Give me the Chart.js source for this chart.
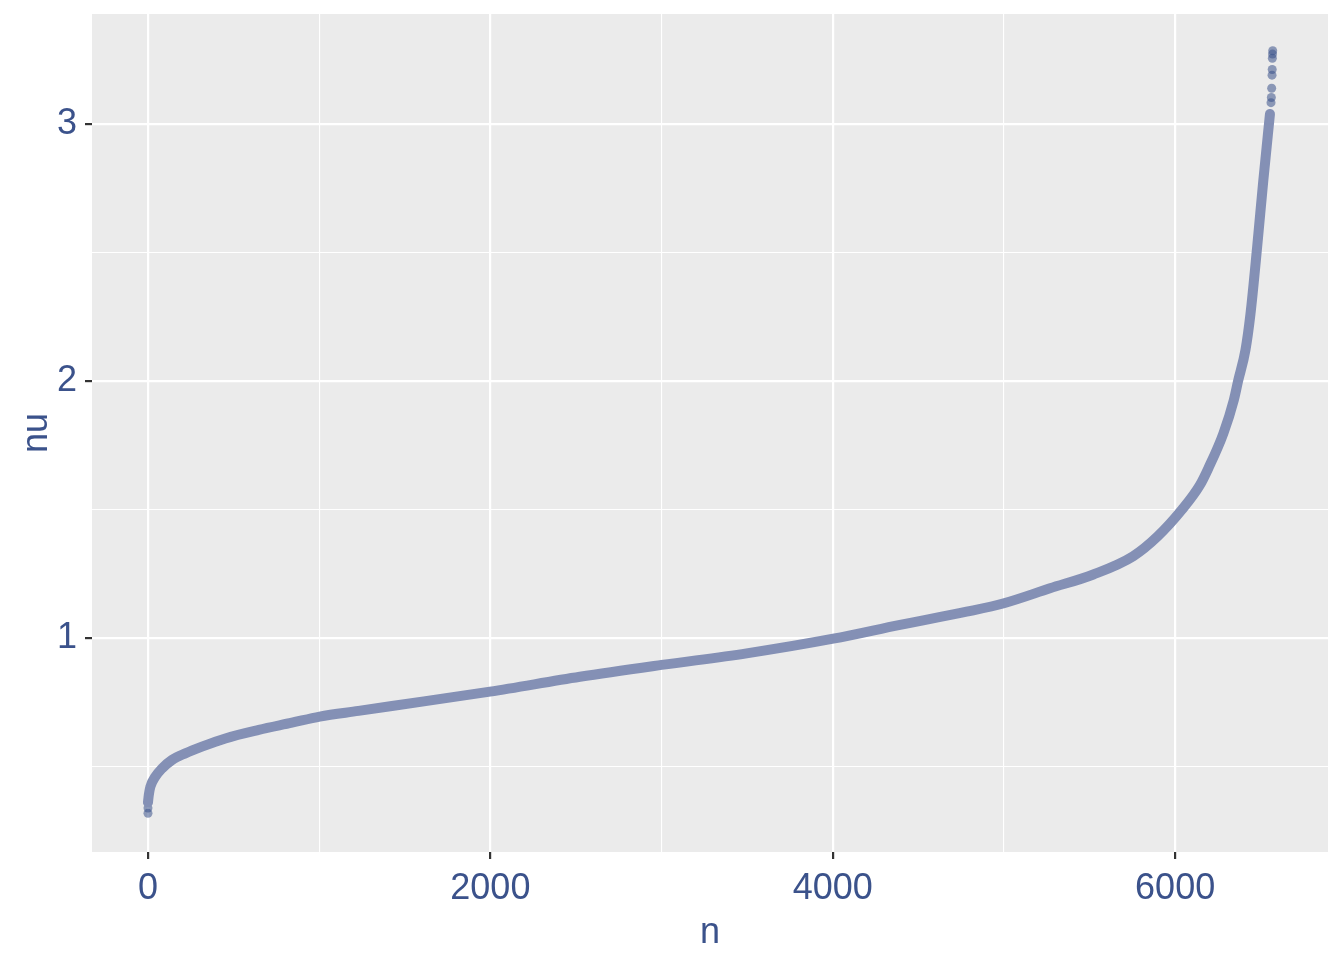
<!DOCTYPE html>
<html>
<head>
<meta charset="utf-8">
<script src="https://cdn.jsdelivr.net/npm/chart.js@4.4.0/dist/chart.umd.min.js"></script>
<style>
  body { margin: 0; background: #ffffff; }
  canvas { display: block; }
</style>
</head>
<body>
<canvas id="chart" width="1344" height="960"></canvas>
<script>
// sorted nu values (dense band)
var bandN = [0, 5, 14, 43, 82, 140, 218, 315, 452, 647, 841, 1003, 1230, 1425, 1998, 2523, 3000, 3497, 4003, 4393, 4782, 5000, 5269, 5522, 5755, 5896, 6041, 6145, 6194, 6282, 6343, 6368, 6411, 6440, 6479, 6515, 6554];
var bandNu = [0.36, 0.39, 0.421, 0.46, 0.492, 0.525, 0.551, 0.577, 0.609, 0.642, 0.67, 0.694, 0.716, 0.735, 0.791, 0.849, 0.895, 0.94, 0.997, 1.051, 1.102, 1.135, 1.193, 1.247, 1.318, 1.394, 1.5, 1.595, 1.66, 1.796, 1.926, 2.0, 2.121, 2.26, 2.52, 2.779, 3.039];

// isolated points at both ends
var headN = [0, 0, 0];
var headNu = [0.318, 0.338, 0.36];
var tailN = [6560, 6562, 6564, 6566, 6567, 6568, 6569, 6570];
var tailNu = [3.083, 3.103, 3.139, 3.19, 3.212, 3.256, 3.272, 3.285];

// grid positions (major ones get labels)
var xGrid = [0, 1000, 2000, 3000, 4000, 5000, 6000];
var yGrid = [0.5, 1, 1.5, 2, 2.5, 3];
var xTicks = [0, 2000, 4000, 6000];
var yTicks = [1, 2, 3];

var textColor = '#3B528B';
var fontFamily = '"Liberation Sans", Arial, Helvetica, sans-serif';

function toPoints(xs, ys) {
    var pts = [];
    for (var i = 0; i < xs.length; i++) {
        pts.push({x: xs[i], y: ys[i]});
    }
    return pts;
}

function isMajor(list, v) {
    for (var i = 0; i < list.length; i++) {
        if (Math.abs(list[i] - v) < 1e-6) return true;
    }
    return false;
}

// grey panel like ggplot
var panelBg = {
    id: 'panelBg',
    beforeDraw: function (chart) {
        var a = chart.chartArea;
        var ctx = chart.ctx;
        ctx.save();
        ctx.fillStyle = '#EBEBEB';
        ctx.fillRect(a.left, a.top, a.right - a.left, a.bottom - a.top);
        ctx.restore();
    }
};

function axisGrid(major) {
    return {
        color: '#FFFFFF',
        lineWidth: function (c) { return isMajor(major, c.tick.value) ? 2.2 : 1.1; },
        tickColor: function (c) { return isMajor(major, c.tick.value) ? '#333333' : 'rgba(0,0,0,0)'; },
        tickWidth: 2.2,
        tickLength: 7,
        drawTicks: true
    };
}

var config = {
    type: 'scatter',
    data: {
        datasets: [{
            data: toPoints(bandN, bandNu),
            showLine: true,
            borderColor: 'rgb(132,144,181)',
            borderWidth: 10,
            borderCapStyle: 'round',
            borderJoinStyle: 'round',
            cubicInterpolationMode: 'monotone',
            pointRadius: 0,
            pointHoverRadius: 0
        }, {
            data: toPoints(headN, headNu),
            backgroundColor: 'rgba(59,82,139,0.55)',
            borderWidth: 0,
            pointRadius: 4.5
        }, {
            data: toPoints(tailN, tailNu),
            backgroundColor: 'rgba(59,82,139,0.55)',
            borderWidth: 0,
            pointRadius: 4.5
        }]
    },
    options: {
        responsive: false,
        animation: false,
        devicePixelRatio: 1,
        layout: { padding: { top: 14, right: 16, left: 0, bottom: 0 } },
        plugins: { legend: { display: false }, tooltip: { enabled: false } },
        scales: {
            x: {
                type: 'linear',
                min: -327,
                max: 6893,
                afterBuildTicks: function (scale) {
                    scale.ticks = xGrid.map(function (v) { return {value: v}; });
                },
                afterFit: function (scale) { scale.height = 108; },
                border: { display: false },
                grid: axisGrid(xTicks),
                ticks: {
                    autoSkip: false,
                    maxRotation: 0,
                    padding: 8,
                    color: textColor,
                    font: { family: fontFamily, size: 36 },
                    callback: function (v) { return isMajor(xTicks, v) ? String(v) : ''; }
                },
                title: {
                    display: true,
                    text: 'n',
                    color: textColor,
                    font: { family: fontFamily, size: 36 },
                    padding: { top: 0, bottom: 5 }
                }
            },
            y: {
                type: 'linear',
                min: 0.167,
                max: 3.428,
                afterBuildTicks: function (scale) {
                    scale.ticks = yGrid.map(function (v) { return {value: v}; });
                },
                afterFit: function (scale) {
                    scale.width = 92;
                    scale.paddingTop = 0;
                    scale.paddingBottom = 0;
                },
                border: { display: false },
                grid: axisGrid(yTicks),
                ticks: {
                    autoSkip: false,
                    padding: 8,
                    color: textColor,
                    font: { family: fontFamily, size: 36 },
                    callback: function (v) { return isMajor(yTicks, v) ? String(Math.round(v)) : ''; }
                },
                title: {
                    display: true,
                    text: 'nu',
                    color: textColor,
                    font: { family: fontFamily, size: 36 },
                    padding: { top: 15, bottom: 0 }
                }
            }
        }
    },
    plugins: [panelBg]
};

var ctx = document.getElementById('chart').getContext('2d');
window.nuChart = new Chart(ctx, config);
</script>
</body>
</html>
